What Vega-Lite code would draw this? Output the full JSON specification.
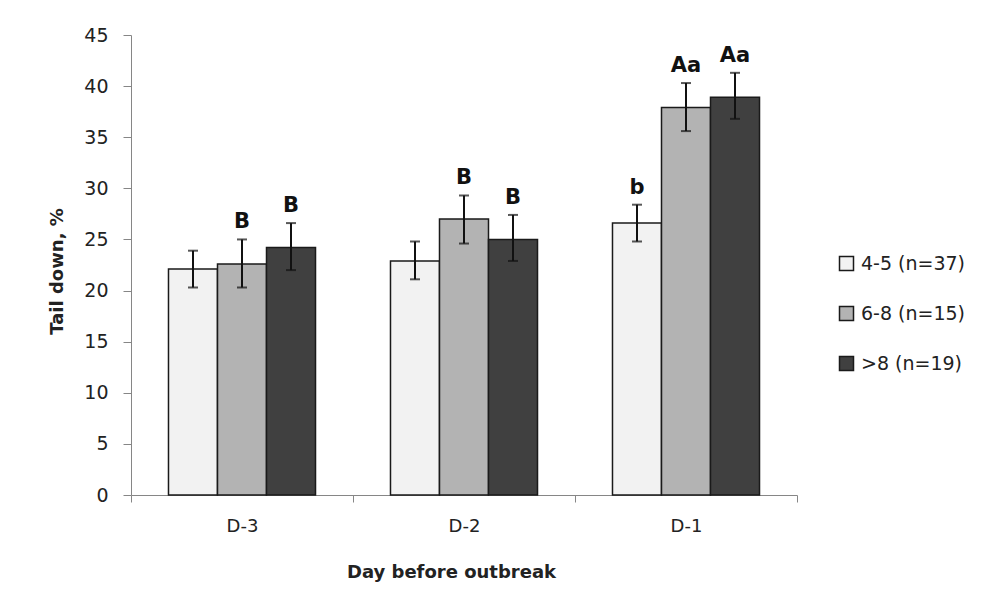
{
  "$schema": "https://vega.github.io/schema/vega-lite/v6.json",
  "width": 666,
  "height": 460,
  "autosize": {"type": "none"},
  "padding": {"left": 131, "top": 35, "right": 186, "bottom": 120},
  "background": "white",
  "config": {"view": {"stroke": null}, "font": "DejaVu Sans"},
  "data": {
    "values": [
      {"day": "D-3", "group": "4-5 (n=37)", "mean": 22.1, "lo": 20.3, "hi": 23.9, "label": ""},
      {"day": "D-3", "group": "6-8 (n=15)", "mean": 22.6, "lo": 20.3, "hi": 25.0, "label": "B"},
      {"day": "D-3", "group": ">8  (n=19)", "mean": 24.2, "lo": 22.0, "hi": 26.6, "label": "B"},
      {"day": "D-2", "group": "4-5 (n=37)", "mean": 22.9, "lo": 21.1, "hi": 24.8, "label": ""},
      {"day": "D-2", "group": "6-8 (n=15)", "mean": 27.0, "lo": 24.6, "hi": 29.3, "label": "B"},
      {"day": "D-2", "group": ">8  (n=19)", "mean": 25.0, "lo": 22.9, "hi": 27.4, "label": "B"},
      {"day": "D-1", "group": "4-5 (n=37)", "mean": 26.6, "lo": 24.8, "hi": 28.4, "label": "b"},
      {"day": "D-1", "group": "6-8 (n=15)", "mean": 37.9, "lo": 35.6, "hi": 40.3, "label": "Aa"},
      {"day": "D-1", "group": ">8  (n=19)", "mean": 38.9, "lo": 36.8, "hi": 41.3, "label": "Aa"}
    ]
  },
  "encoding": {
    "x": {
      "field": "day",
      "type": "nominal",
      "sort": ["D-3", "D-2", "D-1"],
      "scale": {"paddingInner": 0, "paddingOuter": 0},
      "axis": {
        "title": "Day before outbreak",
        "titleFontSize": 18,
        "titleFontWeight": "bold",
        "titleColor": "#222222",
        "titleX": 320,
        "titleY": 77,
        "titleAlign": "center",
        "titleBaseline": "middle",
        "labelAngle": 0,
        "labelFontSize": 18,
        "labelColor": "#222222",
        "labelPadding": 15,
        "domainColor": "#868686",
        "tickColor": "#868686",
        "tickBand": "extent",
        "tickSize": 7
      }
    },
    "xOffset": {
      "field": "group",
      "type": "nominal",
      "sort": ["4-5 (n=37)", "6-8 (n=15)", ">8  (n=19)"],
      "scale": {"paddingInner": 0, "paddingOuter": 0.765}
    }
  },
  "layer": [
    {
      "mark": {"type": "bar", "stroke": "#1a1a1a", "strokeWidth": 1.5},
      "encoding": {
        "y": {
          "field": "mean",
          "type": "quantitative",
          "scale": {"domain": [0, 45]},
          "axis": {
            "values": [0, 5, 10, 15, 20, 25, 30, 35, 40, 45],
            "grid": false,
            "title": "Tail down, %",
            "titleFontSize": 18,
            "titleFontWeight": "bold",
            "titleColor": "#222222",
            "titleX": -74,
            "titleY": 236,
            "titleAngle": -90,
            "titleAlign": "center",
            "titleBaseline": "middle",
            "labelFontSize": 19,
            "labelColor": "#222222",
            "labelPadding": 15,
            "domainColor": "#868686",
            "tickColor": "#868686",
            "tickSize": 8
          }
        },
        "fill": {
          "field": "group",
          "type": "nominal",
          "sort": ["4-5 (n=37)", "6-8 (n=15)", ">8  (n=19)"],
          "scale": {"range": ["#f2f2f2", "#b3b3b3", "#404040"]},
          "legend": {
            "title": null,
            "orient": "none",
            "legendX": 706,
            "legendY": 219,
            "symbolType": "square",
            "symbolSize": 196,
            "symbolStrokeColor": "#1a1a1a",
            "symbolStrokeWidth": 1.5,
            "labelFontSize": 19,
            "labelColor": "#222222",
            "labelOffset": 5,
            "rowPadding": 29
          }
        }
      }
    },
    {
      "mark": {"type": "rule", "strokeWidth": 2, "color": "#111111"},
      "encoding": {
        "y": {"field": "lo", "type": "quantitative"},
        "y2": {"field": "hi"}
      }
    },
    {
      "mark": {"type": "tick", "thickness": 2, "size": 10, "color": "#111111", "orient": "horizontal"},
      "encoding": {"y": {"field": "hi", "type": "quantitative"}}
    },
    {
      "mark": {"type": "tick", "thickness": 2, "size": 10, "color": "#111111", "orient": "horizontal"},
      "encoding": {"y": {"field": "lo", "type": "quantitative"}}
    },
    {
      "mark": {"type": "text", "fontSize": 21, "fontWeight": "bold", "color": "#111111", "baseline": "alphabetic", "dy": -11},
      "encoding": {
        "y": {"field": "hi", "type": "quantitative"},
        "text": {"field": "label"}
      }
    }
  ]
}
